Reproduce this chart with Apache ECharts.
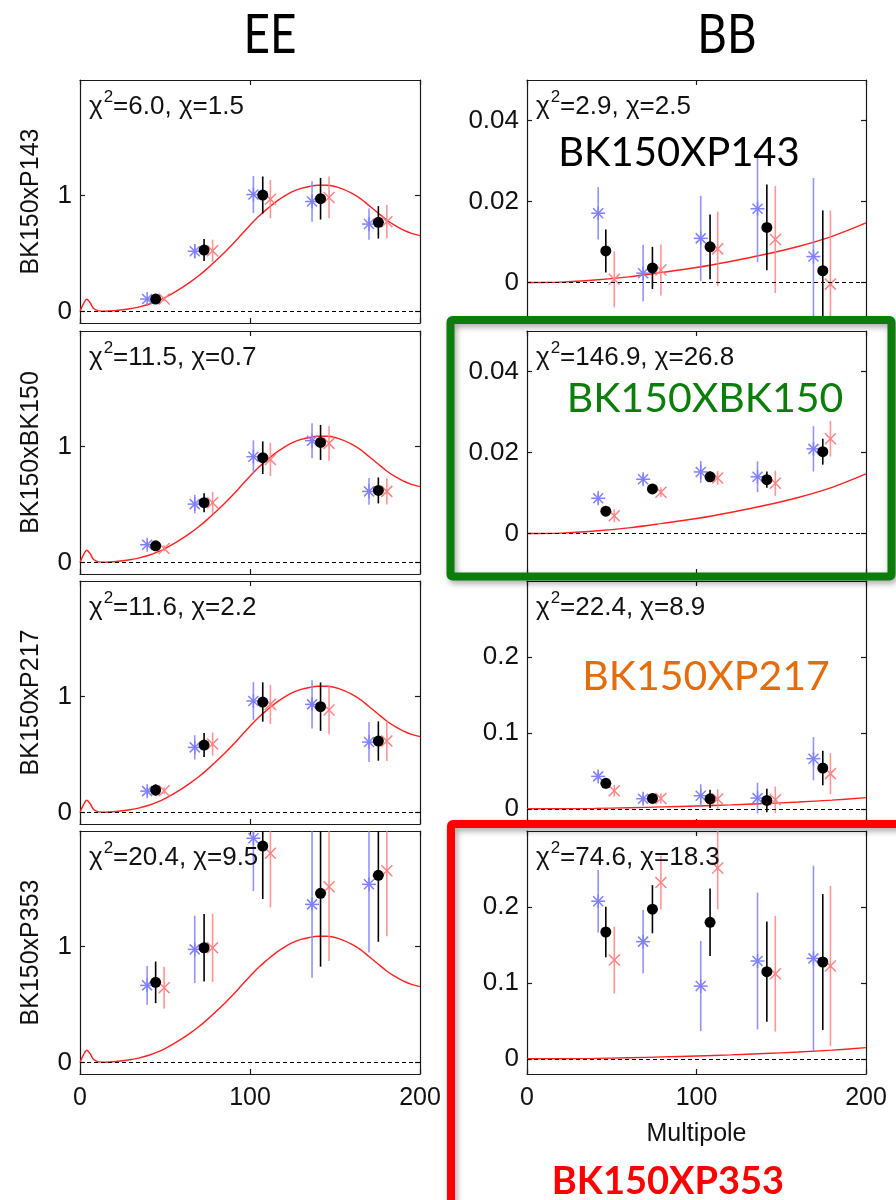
<!DOCTYPE html>
<html>
<head>
<meta charset="utf-8">
<script src="https://cdn.jsdelivr.net/npm/echarts@6/dist/echarts.min.js"></script>
<style>
  html, body { margin: 0; padding: 0; background: #ffffff; }
  #chart { width: 896px; height: 1200px; }
</style>
</head>
<body>
<div id="chart"></div>
<script>
// ---- Bandpower multipole centres (three estimators offset around each bin) ----
const eeEllBlue  = [39.5, 67.5, 102, 136.5, 170];
const eeEllBlack = [44.5, 73, 107.5, 141.5, 175.5];
const eeEllRed   = [49.5, 78, 112, 146.5, 180.5];
const bbEllBlue  = [42, 68.5, 102.5, 136, 169];
const bbEllBlack = [46.5, 74, 108, 141.5, 174.5];
const bbEllRed   = [51.5, 79, 112.5, 146.5, 179];

// ---- Panel labels ----
const columnTitles = ['EE', 'BB'];
const panelNames = ['BK150xP143', 'BK150xBK150', 'BK150xP217', 'BK150xP353'];
const eeChi2 = ['6.0', '11.5', '11.6', '20.4'];
const eeChi  = ['1.5', '0.7', '2.2', '9.5'];
const bbChi2 = ['2.9', '146.9', '22.4', '74.6'];
const bbChi  = ['2.5', '26.8', '8.9', '18.3'];
const calloutLabels = ['BK150XP143', 'BK150XBK150', 'BK150XP217', 'BK150XP353'];

// ---- Axis ticks ----
const xTicks = [0, 100, 200];
const eeYTicks = [0, 1];
const bbYTicks = [[0, 0.02, 0.04], [0, 0.02, 0.04], [0, 0.1, 0.2], [0, 0.1, 0.2]];
const eeYRange = [-0.1, 2.0];
const bbYRange = [[-0.01, 0.05], [-0.01, 0.05], [-0.02, 0.3], [-0.02, 0.3]];

// ---- EE bandpowers (one row per cross spectrum) ----
const eeBlueVal = [
  [0.107, 0.52, 1.01, 0.95, 0.755],
  [0.153, 0.504, 0.914, 1.052, 0.614],
  [0.184, 0.562, 0.963, 0.934, 0.608],
  [0.666, 0.977, 1.937, 1.366, 1.539]
];
const eeBlueErr = [
  [0.02, 0.06, 0.16, 0.175, 0.135],
  [0.025, 0.08, 0.141, 0.151, 0.115],
  [0.03, 0.105, 0.163, 0.209, 0.173],
  [0.167, 0.291, 0.456, 0.634, 0.588]
];
const eeBlackVal = [
  [0.107, 0.53, 1.006, 0.974, 0.77],
  [0.144, 0.516, 0.905, 1.037, 0.622],
  [0.193, 0.582, 0.954, 0.914, 0.617],
  [0.692, 0.991, 1.87, 1.461, 1.617]
];
const eeBlackErr = [
  [0.03, 0.095, 0.16, 0.18, 0.14],
  [0.025, 0.082, 0.141, 0.151, 0.112],
  [0.05, 0.104, 0.17, 0.209, 0.17],
  [0.18, 0.291, 0.458, 0.634, 0.574]
];
const eeRedVal = [
  [0.107, 0.525, 0.97, 0.985, 0.775],
  [0.121, 0.516, 0.89, 1.029, 0.614],
  [0.187, 0.591, 0.934, 0.885, 0.617],
  [0.646, 0.991, 1.807, 1.519, 1.657]
];
const eeRedErr = [
  [0.02, 0.095, 0.165, 0.18, 0.145],
  [0.025, 0.094, 0.144, 0.151, 0.113],
  [0.03, 0.1, 0.169, 0.209, 0.173],
  [0.18, 0.295, 0.467, 0.643, 0.567]
];

// ---- BB bandpowers ----
const bbBlueVal = [
  [0.0171, 0.0023, 0.0109, 0.0182, 0.0064],
  [0.0087, 0.0134, 0.0152, 0.014, 0.0209],
  [0.0427, 0.0132, 0.0172, 0.0141, 0.066],
  [0.2075, 0.1543, 0.0958, 0.1288, 0.1323]
];
const bbBlueErr = [
  [0.0065, 0.007, 0.0105, 0.0132, 0.0194],
  [0.0012, 0.0012, 0.0027, 0.0038, 0.0056],
  [0.006, 0.006, 0.0152, 0.0203, 0.0284],
  [0.041, 0.0418, 0.0593, 0.09, 0.122]
];
const bbBlackVal = [
  [0.0078, 0.0036, 0.0088, 0.0136, 0.0029],
  [0.0055, 0.011, 0.014, 0.0133, 0.0202],
  [0.0335, 0.0137, 0.0132, 0.011, 0.0537],
  [0.167, 0.197, 0.1798, 0.1147, 0.1275]
];
const bbBlackErr = [
  [0.0053, 0.0052, 0.008, 0.0106, 0.0149],
  [0.0012, 0.001, 0.0013, 0.002, 0.0032],
  [0.0066, 0.006, 0.012, 0.0155, 0.0227],
  [0.0334, 0.0317, 0.0444, 0.066, 0.0895]
];
const bbRedVal = [
  [0.0008, 0.0031, 0.0083, 0.0106, -0.0004],
  [0.0044, 0.0102, 0.0137, 0.0124, 0.0234],
  [0.0238, 0.0137, 0.0128, 0.0119, 0.0463],
  [0.1301, 0.2321, 0.2514, 0.1121, 0.1222]
];
const bbRedErr = [
  [0.0069, 0.0063, 0.0092, 0.0132, 0.0182],
  [0.0016, 0.0012, 0.0017, 0.0031, 0.0044],
  [0.0077, 0.0066, 0.0128, 0.0176, 0.027],
  [0.044, 0.0356, 0.0545, 0.0763, 0.1055]
];

// ---- LCDM expectation curves ----
const eeTheoryEll = [0, 2, 4, 6, 8, 11, 15, 20, 25, 30, 35, 40, 45, 50, 55, 60, 65, 70, 75, 80,
  85, 90, 95, 100, 105, 110, 115, 120, 125, 130, 135, 140, 145, 150, 155, 160, 165, 170, 175,
  180, 185, 190, 195, 200];
const eeTheoryVal = [0, 0.065, 0.105, 0.075, 0.025, 0.005, 0.002, 0.006, 0.014, 0.025, 0.039,
  0.06, 0.087, 0.12, 0.16, 0.205, 0.255, 0.31, 0.372, 0.44, 0.51, 0.585, 0.665, 0.745, 0.82,
  0.885, 0.945, 0.995, 1.035, 1.063, 1.08, 1.09, 1.09, 1.08, 1.055, 1.02, 0.975, 0.915, 0.855,
  0.795, 0.745, 0.705, 0.675, 0.655];
const bbTheoryEll = [0, 20, 40, 60, 80, 100, 120, 140, 160, 180, 200];
const bbTheoryVal = [0, 0.0001, 0.0006, 0.0014, 0.0025, 0.0037, 0.0052, 0.0069, 0.0089, 0.0114, 0.0147];

// ---- Layout ----
const colLeft = [80, 527];
const colWidth = [340, 339];
const rowTop = [80, 331, 581, 831];
const rowHeight = 243;

const AXIS_FONT = '"Liberation Sans", Arial, Helvetica, sans-serif';
const SLIDE_FONT = 'Lato, "Open Sans", sans-serif';
const frameColor = '#1a1a1a';
const blueColor = '#8080ff';
const redColor = '#ff8282';
const curveColor = '#ff2020';

function zip(ell, val, err) {
  return ell.map((l, i) => [l, val[i], err[i]]);
}

function errorBarRenderer(kind, color) {
  return function (params, api) {
    const x = api.value(0), y = api.value(1), e = api.value(2);
    const c = api.coord([x, y]);
    const hi = api.coord([x, y + e]);
    const lo = api.coord([x, y - e]);
    const cs = params.coordSys;
    const y1 = Math.max(hi[1], cs.y);
    const y2 = Math.min(lo[1], cs.y + cs.height);
    const children = [];
    const barStyle = { stroke: color, lineWidth: 1.6, opacity: kind === 'dot' ? 1 : 0.85 };
    if (y2 > y1) {
      children.push({ type: 'line', shape: { x1: c[0], y1: y1, x2: c[0], y2: y2 }, style: barStyle });
    }
    const px = c[0], py = c[1];
    if (py >= cs.y - 2 && py <= cs.y + cs.height + 2) {
      if (kind === 'dot') {
        children.push({ type: 'circle', shape: { cx: px, cy: py, r: 5.5 }, style: { fill: color } });
      } else if (kind === 'star') {
        const r = 7, d = 5;
        const s = { stroke: color, lineWidth: 1.5 };
        children.push({ type: 'line', shape: { x1: px - r, y1: py, x2: px + r, y2: py }, style: s });
        children.push({ type: 'line', shape: { x1: px, y1: py - r, x2: px, y2: py + r }, style: s });
        children.push({ type: 'line', shape: { x1: px - d, y1: py - d, x2: px + d, y2: py + d }, style: s });
        children.push({ type: 'line', shape: { x1: px - d, y1: py + d, x2: px + d, y2: py - d }, style: s });
      } else {
        const d = 5.5;
        const s = { stroke: color, lineWidth: 1.5 };
        children.push({ type: 'line', shape: { x1: px - d, y1: py - d, x2: px + d, y2: py + d }, style: s });
        children.push({ type: 'line', shape: { x1: px - d, y1: py + d, x2: px + d, y2: py - d }, style: s });
      }
    }
    return { type: 'group', children: children };
  };
}

const grids = [], xAxes = [], yAxes = [], series = [], graphics = [];
const lineStyle = { color: frameColor, width: 1.2 };

for (let row = 0; row < 4; row++) {
  for (let col = 0; col < 2; col++) {
    const g = row * 2 + col;
    grids.push({ left: colLeft[col], top: rowTop[row], width: colWidth[col], height: rowHeight, containLabel: false });
    const isBottom = row === 3;
    const yRange = col === 0 ? eeYRange : bbYRange[row];
    const yTicks = col === 0 ? eeYTicks : bbYTicks[row];

    // bottom and top x axes (box frame with inward ticks)
    xAxes.push({
      gridIndex: g, type: 'value', min: 0, max: 200, position: 'bottom',
      axisLine: { show: true, onZero: false, lineStyle },
      axisTick: { show: true, inside: true, length: 5, customValues: xTicks, lineStyle },
      axisLabel: { show: isBottom, customValues: xTicks, fontSize: 25, color: '#111', margin: 12, fontFamily: AXIS_FONT },
      splitLine: { show: false },
      name: (isBottom && col === 1) ? 'Multipole' : '',
      nameLocation: 'middle', nameGap: 48,
      nameTextStyle: { fontSize: 25, color: '#111', fontFamily: AXIS_FONT }
    });
    xAxes.push({
      gridIndex: g, type: 'value', min: 0, max: 200, position: 'top',
      axisLine: { show: true, onZero: false, lineStyle },
      axisTick: { show: true, inside: true, length: 5, customValues: xTicks, lineStyle },
      axisLabel: { show: false }, splitLine: { show: false }
    });
    // left and right y axes
    yAxes.push({
      gridIndex: g, type: 'value', min: yRange[0], max: yRange[1], position: 'left',
      axisLine: { show: true, onZero: false, lineStyle },
      axisTick: { show: true, inside: true, length: 5, customValues: yTicks, lineStyle },
      axisLabel: {
        show: true, customValues: yTicks, fontSize: 26, color: '#111', margin: 8, fontFamily: AXIS_FONT,
        formatter: v => String(Math.round(v * 1000) / 1000)
      },
      splitLine: { show: false },
      name: col === 0 ? panelNames[row] : '',
      nameLocation: 'middle', nameGap: 36, nameRotate: 90,
      nameTextStyle: { fontSize: 25, color: '#111', fontFamily: AXIS_FONT }
    });
    yAxes.push({
      gridIndex: g, type: 'value', min: yRange[0], max: yRange[1], position: 'right',
      axisLine: { show: true, onZero: false, lineStyle },
      axisTick: { show: true, inside: true, length: 5, customValues: yTicks, lineStyle },
      axisLabel: { show: false }, splitLine: { show: false }
    });

    const xi = g * 2, yi = g * 2;
    const thEll = col === 0 ? eeTheoryEll : bbTheoryEll;
    const thVal = col === 0 ? eeTheoryVal : bbTheoryVal;
    series.push({
      type: 'line', xAxisIndex: xi, yAxisIndex: yi,
      data: thEll.map((l, i) => [l, thVal[i]]),
      smooth: 0.35, showSymbol: false, silent: true, z: 2,
      lineStyle: { color: curveColor, width: 1.4 },
      markLine: {
        silent: true, symbol: ['none', 'none'], label: { show: false },
        lineStyle: { color: '#000', type: [4, 3], width: 1.1 },
        data: [{ yAxis: 0 }]
      }
    });

    const sets = col === 0
      ? [[eeEllBlue, eeBlueVal, eeBlueErr, 'star', blueColor],
         [eeEllRed, eeRedVal, eeRedErr, 'cross', redColor],
         [eeEllBlack, eeBlackVal, eeBlackErr, 'dot', '#000']]
      : [[bbEllBlue, bbBlueVal, bbBlueErr, 'star', blueColor],
         [bbEllRed, bbRedVal, bbRedErr, 'cross', redColor],
         [bbEllBlack, bbBlackVal, bbBlackErr, 'dot', '#000']];
    sets.forEach((s, k) => {
      series.push({
        type: 'custom', xAxisIndex: xi, yAxisIndex: yi, z: 3 + k, silent: true,
        encode: { x: 0, y: 1 },
        data: zip(s[0], s[1][row], s[2][row]),
        renderItem: errorBarRenderer(s[3], s[4])
      });
    });

    // chi-square annotation in the panel corner
    const c2 = col === 0 ? eeChi2[row] : bbChi2[row];
    const c1 = col === 0 ? eeChi[row] : bbChi[row];
    graphics.push({
      type: 'text', z: 50,
      left: colLeft[col] + 9, top: rowTop[row] + 9,
      style: {
        text: '{t|χ}{s|2}{t|=' + c2 + ', χ=' + c1 + '}',
        rich: {
          t: { fontSize: 26, fontFamily: AXIS_FONT, fill: '#111', lineHeight: 40, verticalAlign: 'bottom' },
          s: { fontSize: 17, fontFamily: AXIS_FONT, fill: '#111', lineHeight: 40, verticalAlign: 'bottom', padding: [0, 0, 14, 1] }
        }
      }
    });
  }
}

// column headings
graphics.push({ type: 'text', z: 50, x: 270, y: 36, scaleX: 0.85, style: { text: columnTitles[0], x: 0, y: 0, font: '54px ' + SLIDE_FONT, fill: '#000', align: 'center', verticalAlign: 'middle' } });
graphics.push({ type: 'text', z: 50, x: 727, y: 36, scaleX: 0.85, style: { text: columnTitles[1], x: 0, y: 0, font: '54px ' + SLIDE_FONT, fill: '#000', align: 'center', verticalAlign: 'middle' } });

// callout labels next to the BB panels
graphics.push({ type: 'text', z: 60, style: { text: calloutLabels[0], x: 679, y: 153, font: '40px ' + SLIDE_FONT, fill: '#000', align: 'center', verticalAlign: 'middle' } });
graphics.push({ type: 'text', z: 60, style: { text: calloutLabels[1], x: 705, y: 399, font: '41px ' + SLIDE_FONT, fill: '#0a7d0a', align: 'center', verticalAlign: 'middle' } });
graphics.push({ type: 'text', z: 60, style: { text: calloutLabels[2], x: 706, y: 677, font: '41px ' + SLIDE_FONT, fill: '#e46c0a', align: 'center', verticalAlign: 'middle' } });
graphics.push({ type: 'text', z: 60, style: { text: calloutLabels[3], x: 668, y: 1182, font: 'bold 38px ' + SLIDE_FONT, fill: '#ff0000', align: 'center', verticalAlign: 'middle' } });

// highlight frames
graphics.push({
  type: 'rect', z: 70,
  shape: { x: 450.5, y: 320, width: 441, height: 256.5, r: 2 },
  style: { fill: 'none', stroke: '#0a7d0a', lineWidth: 8, shadowBlur: 6, shadowColor: 'rgba(0,0,0,0.35)', shadowOffsetX: 2, shadowOffsetY: 3 }
});
graphics.push({
  type: 'rect', z: 70,
  shape: { x: 451, y: 824, width: 480, height: 420, r: 2 },
  style: { fill: 'none', stroke: '#ff0000', lineWidth: 8, shadowBlur: 6, shadowColor: 'rgba(0,0,0,0.35)', shadowOffsetX: 2, shadowOffsetY: 3 }
});

const chart = echarts.init(document.getElementById('chart'), null, { renderer: 'canvas' });
chart.setOption({
  backgroundColor: '#ffffff',
  animation: false,
  grid: grids,
  xAxis: xAxes,
  yAxis: yAxes,
  series: series,
  graphic: graphics
});
</script>
</body>
</html>
